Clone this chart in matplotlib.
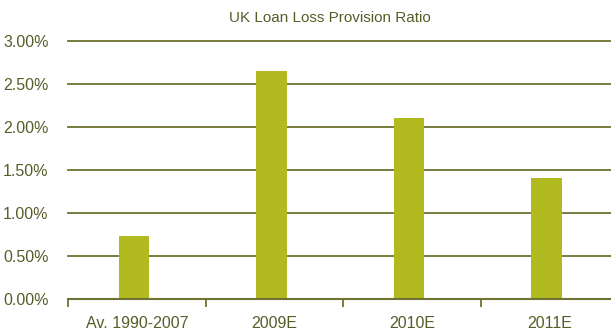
import matplotlib
matplotlib.use("Agg")
import matplotlib.pyplot as plt
from matplotlib.ticker import FuncFormatter, FixedLocator

plt.rcParams['font.family'] = ['Liberation Sans', 'DejaVu Sans']

categories = ['Av. 1990-2007', '2009E', '2010E', '2011E']
provision_ratio = [0.73, 2.65, 2.10, 1.41]
y_ticks = [0.0, 0.5, 1.0, 1.5, 2.0, 2.5, 3.0]

bar_color = '#b1ba1f'
line_color = '#6e7334'
text_color = '#585c28'

fig = plt.figure(figsize=(6.11, 3.33), dpi=100)
ax = fig.add_axes([68 / 611, 34 / 333, 550 / 611, 258 / 333])

x = range(len(categories))
ax.bar([i - 0.02 for i in x], provision_ratio, width=0.225, color=bar_color, zorder=3)

ax.set_xlim(-0.5, len(categories) - 0.5)
ax.set_ylim(0, 3.0)
ax.set_yticks(y_ticks)
ax.yaxis.set_major_formatter(FuncFormatter(lambda v, _: f'{v:.2f}%'))
ax.grid(axis='y', color=line_color, linewidth=1.3, zorder=1)
for gl in ax.get_ygridlines():
    gl.set_clip_on(False)
ax.tick_params(axis='y', length=0, pad=14, labelsize=11.5, labelcolor=text_color)

ax.set_xticks(list(x))
ax.set_xticklabels(categories)
ax.xaxis.set_minor_locator(FixedLocator([i - 0.5 for i in range(len(categories) + 1)]))
ax.tick_params(axis='x', which='major', length=0, pad=12, labelsize=11.5, labelcolor=text_color)
ax.tick_params(axis='x', which='minor', length=6, width=1.3, color=line_color, direction='out')

for side in ['top', 'right', 'left']:
    ax.spines[side].set_visible(False)
ax.spines['bottom'].set_color(line_color)
ax.spines['bottom'].set_linewidth(1.5)
ax.spines['bottom'].set_zorder(4)

fig.text(330 / 611, 1 - 18 / 333, 'UK Loan Loss Provision Ratio', ha='center', va='center',
         fontsize=11, color=text_color)

fig.savefig('out.png', dpi=100)
